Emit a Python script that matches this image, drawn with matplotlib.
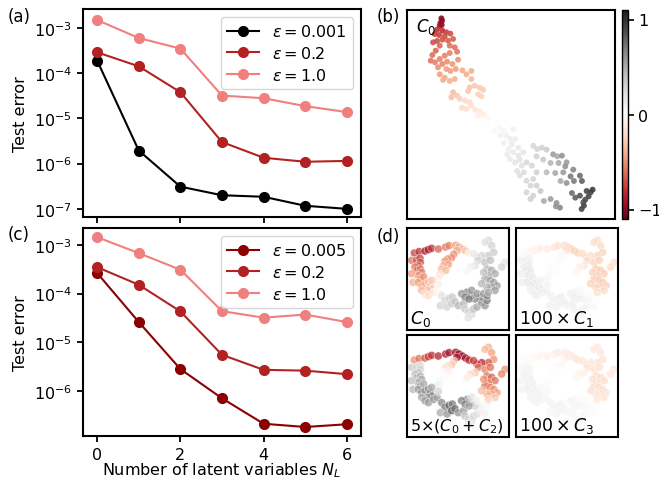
import matplotlib
matplotlib.use("Agg")
import matplotlib.pyplot as plt
import numpy as np

# ---------------- data ----------------
NL = [0, 1, 2, 3, 4, 5, 6]

a_labels = [r"$\varepsilon = 0.001$", r"$\varepsilon = 0.2$", r"$\varepsilon = 1.0$"]
a_eps0001 = [1.9e-4, 1.95e-6, 3.1e-7, 2.0e-7, 1.85e-7, 1.17e-7, 1.0e-7]
a_eps02 = [2.9e-4, 1.42e-4, 3.8e-5, 3.0e-6, 1.35e-6, 1.1e-6, 1.15e-6]
a_eps1 = [1.5e-3, 6.0e-4, 3.5e-4, 3.2e-5, 2.8e-5, 1.87e-5, 1.38e-5]

c_labels = [r"$\varepsilon = 0.005$", r"$\varepsilon = 0.2$", r"$\varepsilon = 1.0$"]
c_eps0005 = [2.65e-4, 2.6e-5, 2.8e-6, 7.0e-7, 2.1e-7, 1.8e-7, 2.05e-7]
c_eps02 = [3.5e-4, 1.52e-4, 4.3e-5, 5.5e-6, 2.7e-6, 2.6e-6, 2.2e-6]
c_eps1 = [1.45e-3, 6.8e-4, 3.1e-4, 4.35e-5, 3.2e-5, 3.7e-5, 2.6e-5]

# panel (b): embedding coordinates and C0 value
b_x = [125,127,122,120,126,112,128,140,152,105,118,135,100,112,128,145,160,150,165,172,
       120,108,98,93,106,120,135,150,128,142,158,175,115,140,152,168,188,200,215,120,
       135,150,165,215,130,210,225,240,250,205,235,245,160,172,155,180,196,210,186,200,
       215,226,240,250,265,235,260,290,300,312,285,340,302,320,332,346,312,336,356,326,
       322,340,356,370,330,346,360,352,366,400,412,426,440,380,396,410,430,460,472,486,
       452,476,500,496,520,440,466,490,512,540,546,522,482,500,380,392,410,422,400,392,
       432,452,470,480,468,516,526,540,560,572,578,566,550,545,552,556,380,360,372,410,400]
b_y = [58,65,72,80,78,92,95,100,104,105,108,112,130,126,122,125,120,140,145,158,
       140,155,168,185,190,180,170,162,195,188,195,182,205,210,216,210,214,226,216,226,
       236,246,240,240,243,265,260,266,272,276,286,292,280,290,295,300,305,310,326,330,
       320,332,336,346,356,350,380,370,386,396,396,390,410,410,420,420,432,436,446,450,
       466,460,470,460,480,490,482,516,500,440,450,446,452,490,500,472,482,466,472,470,
       492,492,490,502,512,520,522,520,532,530,546,546,546,552,545,560,560,576,590,600,
       606,600,612,626,622,582,596,590,576,580,572,592,610,630,620,602,580,530,520,520,540]
b_c0 = [-1.0,-1.0,-0.95,-0.9,-0.95,-0.8,-0.8,-0.75,-0.7,-0.75,-0.75,-0.7,-0.7,-0.7,-0.68,-0.65,-0.65,-0.6,-0.6,-0.58,
        -0.62,-0.62,-0.6,-0.58,-0.55,-0.55,-0.55,-0.55,-0.52,-0.5,-0.48,-0.5,-0.5,-0.45,-0.45,-0.45,-0.42,-0.4,-0.4,-0.45,
        -0.42,-0.38,-0.38,-0.35,-0.4,-0.3,-0.3,-0.28,-0.28,-0.3,-0.25,-0.25,-0.33,-0.3,-0.32,-0.25,-0.22,-0.2,-0.2,-0.18,
        -0.18,-0.15,-0.12,-0.1,-0.05,-0.1,0.0,0.02,0.05,0.06,0.04,0.1,0.08,0.1,0.12,0.12,0.1,0.13,0.15,0.12,
        0.14,0.15,0.17,0.18,0.15,0.17,0.18,0.2,0.2,0.25,0.28,0.3,0.32,0.25,0.27,0.3,0.35,0.55,0.5,0.6,
        0.45,0.5,0.55,0.6,0.65,0.42,0.5,0.55,0.7,0.75,0.8,0.7,0.5,0.6,0.25,0.28,0.3,0.35,0.3,0.3,
        0.5,0.55,0.6,0.65,0.6,0.75,0.8,0.85,0.9,0.9,0.95,0.9,0.85,0.9,0.9,0.88,0.28,0.22,0.24,0.3,0.28]

# panel (d): shared embedding coordinates and four coefficient maps
d_x = [28,42,60,70,80,100,122,132,152,162,172,182,192,156,146,140,128,120,130,115,110,122,105,100,
       20,35,45,46,40,30,36,46,50,40,46,56,20,24,40,50,60,70,76,80,66,50,60,70,86,96,100,80,
       110,120,132,142,106,126,140,150,160,176,180,190,200,190,206,216,230,240,246,226,210,200,186,170,180,192,200,216,236,246,
       250,240,260,266,250,230,216,206,220,240,256,300,290,246,260,270,250,240,256,266,276,260,246,230,270,250,236,210,196,186]
d_y = [78,74,72,68,64,66,60,56,55,60,66,72,78,70,82,92,96,102,112,116,126,130,142,152,
       100,100,94,106,116,120,130,126,136,146,156,150,140,166,166,176,170,165,176,186,190,190,200,206,196,190,172,160,
       206,220,214,210,236,240,230,224,236,230,246,256,262,272,246,240,226,236,220,210,216,206,196,200,210,216,190,200,200,206,
       40,46,56,76,86,86,90,80,100,106,100,106,120,126,130,140,146,156,160,166,176,180,180,170,190,196,136,116,120,132]
d_c0 = [-0.75,-0.8,-0.9,-0.9,-0.8,-0.65,-0.6,-0.55,-0.45,-0.4,-0.35,-0.3,-0.1,-0.4,-0.5,-0.5,-0.5,-0.45,-0.45,-0.4,-0.35,-0.35,-0.2,-0.1,
        -0.6,-0.7,-0.75,-0.7,-0.65,-0.6,-0.6,-0.6,-0.55,-0.5,-0.5,-0.5,-0.45,-0.4,-0.45,-0.4,-0.4,-0.35,-0.3,-0.3,-0.35,-0.35,-0.2,-0.2,-0.15,-0.05,-0.1,-0.3,
        0.2,0.3,0.3,0.35,0.3,0.3,0.35,0.4,0.45,0.45,0.35,0.3,0.25,0.2,0.4,0.5,0.65,0.6,0.7,0.65,0.65,0.65,0.7,0.6,0.65,0.7,0.6,0.6,0.6,0.65,
        0.25,0.2,0.3,0.35,0.35,0.3,0.25,0.15,0.3,0.4,0.4,0.2,0.3,0.45,0.5,0.5,0.5,0.5,0.55,0.55,0.55,0.55,0.5,0.45,0.55,0.5,0.4,0.2,0.1,0.05]
d_c1x100 = [-0.05,-0.05,-0.08,-0.08,-0.1,-0.12,-0.15,-0.18,-0.22,-0.22,-0.25,-0.25,-0.25,-0.2,-0.05,-0.05,-0.02,0.0,-0.02,0.0,0.02,0.02,0.03,0.05,
            0.1,0.12,0.1,0.12,0.14,0.14,0.15,0.15,0.15,0.15,0.15,0.14,0.12,0.12,0.15,0.15,0.15,0.14,0.14,0.14,0.14,0.12,0.12,0.12,0.12,0.1,0.08,0.1,
            0.12,0.12,0.12,0.12,0.1,0.12,0.12,0.12,0.1,0.12,0.1,0.08,0.08,0.06,0.08,0.08,0.05,0.05,0.02,0.05,0.08,0.1,0.1,0.12,0.12,0.1,0.05,0.02,-0.02,0.0,
            -0.22,-0.2,-0.22,-0.25,-0.25,-0.22,-0.2,-0.2,-0.22,-0.25,-0.25,-0.2,-0.22,-0.28,-0.28,-0.28,-0.28,-0.28,-0.28,-0.28,-0.26,-0.26,-0.25,-0.25,-0.22,-0.2,-0.25,-0.15,-0.1,-0.05]
d_c02x5 = [-0.5,-0.6,-0.7,-0.75,-0.8,-0.85,-0.9,-0.9,-0.95,-0.95,-0.95,-0.9,-0.85,-0.9,-0.3,-0.3,-0.2,-0.15,-0.1,-0.05,0.0,0.02,0.05,0.1,
           0.35,0.3,0.25,0.3,0.4,0.4,0.45,0.45,0.5,0.5,0.55,0.5,0.4,0.45,0.55,0.6,0.6,0.6,0.65,0.65,0.6,0.5,0.55,0.55,0.6,0.55,0.3,0.5,
           0.65,0.7,0.75,0.7,0.5,0.6,0.8,0.75,0.6,0.55,0.4,0.3,0.2,0.15,0.3,0.2,0.1,0.1,0.05,0.1,0.3,0.45,0.6,0.7,0.65,0.55,0.2,0.1,0.0,0.05,
           -0.4,-0.35,-0.45,-0.5,-0.7,-0.85,-0.8,-0.75,-0.6,-0.55,-0.6,-0.5,-0.55,-0.6,-0.65,-0.6,-0.6,-0.6,-0.55,-0.5,-0.45,-0.45,-0.4,-0.35,-0.3,-0.25,-0.5,-0.3,-0.2,-0.1]
d_c3x100 = [-0.03,-0.03,-0.05,-0.05,-0.06,-0.08,-0.1,-0.12,-0.12,-0.14,-0.15,-0.15,-0.16,-0.12,-0.05,-0.05,-0.03,-0.02,-0.02,0.0,0.0,0.0,0.02,0.02,
            0.06,0.08,0.06,0.08,0.08,0.08,0.1,0.1,0.1,0.1,0.1,0.1,0.08,0.08,0.1,0.1,0.1,0.1,0.1,0.1,0.1,0.08,0.08,0.08,0.08,0.06,0.05,0.06,
            0.08,0.08,0.08,0.08,0.06,0.08,0.08,0.08,0.06,0.06,0.06,0.05,0.05,0.04,0.05,0.05,0.03,0.03,0.02,0.03,0.05,0.06,0.06,0.08,0.06,0.06,0.03,0.02,0.0,0.0,
            -0.15,-0.14,-0.15,-0.18,-0.18,-0.16,-0.15,-0.14,-0.16,-0.18,-0.18,-0.14,-0.15,-0.2,-0.2,-0.2,-0.2,-0.2,-0.2,-0.2,-0.18,-0.18,-0.18,-0.18,-0.16,-0.14,-0.18,-0.1,-0.08,-0.05]
d_labels = [r"$C_0$", r"$100\times C_1$", r"$5{\times}(C_0+C_2)$", r"$100\times C_3$"]
d_label_sizes = [12.5, 12.5, 11.5, 12.5]

# ---------------- style ----------------
plt.rcParams.update({
    "font.size": 11.5,
    "axes.linewidth": 1.5,
    "xtick.major.width": 1.3,
    "ytick.major.width": 1.3,
    "xtick.major.size": 4.5,
    "ytick.major.size": 4.5,
    "mathtext.fontset": "dejavusans",
})

W, H = 659, 481
fig = plt.figure(figsize=(W / 100, H / 100), dpi=100)

def rect(l, t, r, b):
    return [l / W, 1 - b / H, (r - l) / W, (b - t) / H]

col_black = "black"
col_mid = "#b22222"
col_light = "#f08080"
col_dark = "#8b0000"

def line_panel(ax, series, colors, labels):
    for y, c, lab in zip(series, colors, labels):
        ax.plot(NL, y, "-o", color=c, lw=1.5, ms=7, label=lab)
    ax.set_yscale("log")
    ax.minorticks_off()
    ax.set_xticks([0, 2, 4, 6])
    ax.set_ylabel("Test error")
    ax.legend(loc="upper right", fontsize=11.5, handlelength=2.0,
              borderpad=0.4, labelspacing=0.35)

ax_a = fig.add_axes(rect(83, 10, 361, 218))
line_panel(ax_a, [a_eps0001, a_eps02, a_eps1], [col_black, col_mid, col_light], a_labels)
ax_a.set_ylim(10 ** -7.18, 10 ** -2.58)
ax_a.set_yticks([1e-7, 1e-6, 1e-5, 1e-4, 1e-3])
ax_a.minorticks_off()
ax_a.tick_params(axis="x", labelbottom=False)

ax_c = fig.add_axes(rect(83, 229, 361, 437))
line_panel(ax_c, [c_eps0005, c_eps02, c_eps1], [col_dark, col_mid, col_light], c_labels)
ax_c.set_ylim(10 ** -6.93, 10 ** -2.65)
ax_c.set_yticks([1e-6, 1e-5, 1e-4, 1e-3])
ax_c.minorticks_off()
ax_c.set_xlabel(r"Number of latent variables $N_L$", labelpad=-1)

for ax in (ax_a, ax_c):
    ax.set_xlim(-0.34, 6.34)

cmap = plt.get_cmap("RdGy")
vmin, vmax = -1.1, 1.1

ax_b = fig.add_axes(rect(407, 11, 615, 220))
sc = ax_b.scatter(b_x, b_y, c=b_c0, cmap=cmap, vmin=vmin, vmax=vmax, s=18,
                  alpha=0.9, linewidths=0)
ax_b.set_xlim(22, 645)
ax_b.set_ylim(660, 33)
ax_b.set_xticks([])
ax_b.set_yticks([])
ax_b.text(0.045, 0.925, r"$C_0$", transform=ax_b.transAxes, fontsize=12,
          ha="left", va="center")

cax = fig.add_axes(rect(622, 11, 628, 220))
cb = fig.colorbar(sc, cax=cax)
cb.solids.set_alpha(1)
cb.set_ticks([-1, 0, 1])
cb.outline.set_linewidth(1.0)
cax.tick_params(width=1.2, length=4)

d_rects = [rect(407, 229, 509, 331), rect(516, 229, 618, 331),
           rect(407, 336, 509, 438), rect(516, 336, 618, 438)]
d_vals = [d_c0, d_c1x100, d_c02x5, d_c3x100]
for r, vals, lab, fs in zip(d_rects, d_vals, d_labels, d_label_sizes):
    ax = fig.add_axes(r)
    ax.scatter(d_x, d_y, c=vals, cmap=cmap, vmin=vmin, vmax=vmax, s=34,
               alpha=0.75, edgecolors="white", linewidths=0.4)
    ax.set_xlim(6, 312)
    ax.set_ylim(309, 3)
    ax.set_xticks([])
    ax.set_yticks([])
    ax.text(0.03, 0.02, lab, transform=ax.transAxes, fontsize=fs,
            ha="left", va="bottom")

fig.text(8 / W, 1 - 17 / H, "(a)", fontsize=12, va="center", ha="left")
fig.text(377 / W, 1 - 17 / H, "(b)", fontsize=12, va="center", ha="left")
fig.text(8 / W, 1 - 235 / H, "(c)", fontsize=12, va="center", ha="left")
fig.text(377 / W, 1 - 237 / H, "(d)", fontsize=12, va="center", ha="left")

fig.savefig("out.png", dpi=100)
